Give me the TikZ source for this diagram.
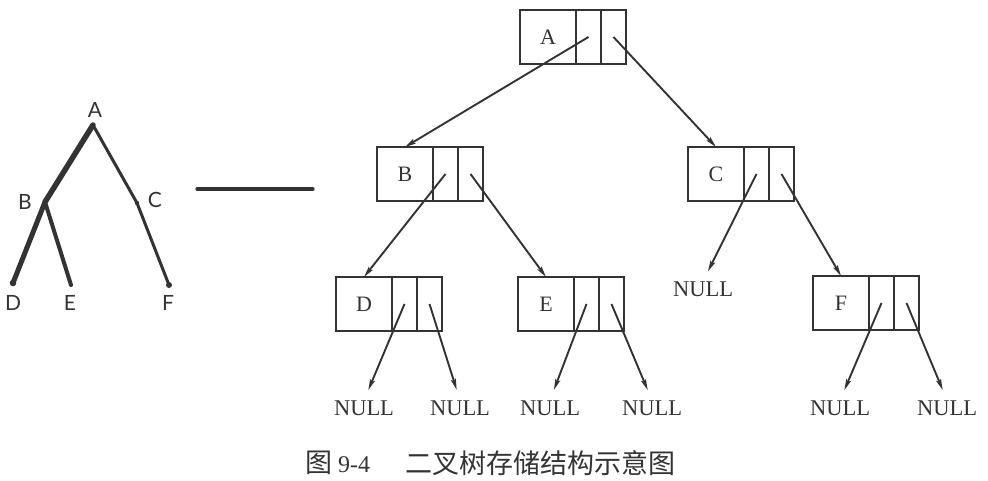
\documentclass[tikz,border=0pt]{standalone}
\usepackage{fontspec}
\setmainfont{Liberation Serif}
\newfontfamily\cjk{Noto Sans CJK SC}
\newfontfamily\latofont{Lato}
\usetikzlibrary{arrows.meta,positioning}
\definecolor{ink}{HTML}{333333}
\begin{document}
\begin{tikzpicture}[x=1pt,y=-1pt,
  dcell/.style={draw=ink, line width=2.2pt, minimum width=56pt, minimum height=54pt,
    inner sep=0pt, outer sep=0pt, font=\fontsize{22}{22}\selectfont, text=ink},
  pcell/.style={dcell, minimum width=25pt},
  ptr/.style={draw=ink, line width=1.9pt, -{Stealth[length=11pt,width=5pt,inset=2pt]}},
  nullptr/.style={ptr, shorten >=11pt},
  nulltxt/.style={inner sep=0pt, font=\fontsize{22.5}{22.5}\selectfont, text=ink},
  treelbl/.style={inner sep=0pt, font=\latofont\fontsize{21}{21}\selectfont, text=ink},
  branch/.style={draw=ink, line cap=round, line join=round},
  captxt/.style={inner sep=0pt, anchor=west, text=ink}]
\useasboundingbox (0,0) rectangle (988,481);

% ---- left tree ----
\coordinate (tA) at (93,125);
\coordinate (tB) at (45,202);
\coordinate (tC) at (137,203);
\coordinate (tD) at (13,283);
\coordinate (tE) at (71,285);
\coordinate (tF) at (169,285);
\draw[branch, line width=5.5pt] (tA) -- (tB);
\draw[branch, line width=5pt] (tB) -- (tD);
\draw[branch, line width=4pt] (tB) -- (tE);
\draw[branch, line width=3pt] (tA) -- (tC);
\draw[branch, line width=3pt] (tC) -- (tF);
\fill[ink] (tD) circle (3.3pt);
\fill[ink] (tF) circle (3pt);
\fill[ink] (tC) circle (2.2pt);
\node[treelbl] (lA) at (95,110) {A};
\node[treelbl] (lB) at (25,202) {B};
\node[treelbl] (lC) at (155,200) {C};
\node[treelbl] (lD) at (13,303) {D};
\node[treelbl] (lE) at (70,303) {E};
\node[treelbl] (lF) at (168,303) {F};

% ---- dash ----
\coordinate (d1) at (197,189);
\coordinate (d2) at (313,189);
\draw[branch, line width=3.2pt] (d1) -- (d2);

% ---- boxes ----
\node[dcell] (A) at (548,37) {A};
\node[pcell, right=0pt of A] (Al) {};
\node[pcell, right=0pt of Al] (Ar) {};

\node[dcell] (B) at (405,174) {B};
\node[pcell, right=0pt of B] (Bl) {};
\node[pcell, right=0pt of Bl] (Br) {};

\node[dcell] (C) at (716,174) {C};
\node[pcell, right=0pt of C] (Cl) {};
\node[pcell, right=0pt of Cl] (Cr) {};

\node[dcell] (D) at (364,304) {D};
\node[pcell, right=0pt of D] (Dl) {};
\node[pcell, right=0pt of Dl] (Dr) {};

\node[dcell] (E) at (546,304) {E};
\node[pcell, right=0pt of E] (El) {};
\node[pcell, right=0pt of El] (Er) {};

\node[dcell] (F) at (841,303) {F};
\node[pcell, right=0pt of F] (Fl) {};
\node[pcell, right=0pt of Fl] (Fr) {};

% ---- NULL labels ----
\node[nulltxt] (nC) at (703,289) {NULL};
\node[nulltxt] (nD1) at (364,408) {NULL};
\node[nulltxt] (nD2) at (460,408) {NULL};
\node[nulltxt] (nE1) at (550,408) {NULL};
\node[nulltxt] (nE2) at (652,408) {NULL};
\node[nulltxt] (nF1) at (840,408) {NULL};
\node[nulltxt] (nF2) at (947,408) {NULL};

% ---- pointers ----
\draw[ptr] (Al.center) -- (B.north);
\draw[ptr] (Ar.center) -- (C.north);
\draw[ptr] (Bl.center) -- (D.north);
\draw[ptr] (Br.center) -- (E.north);
\draw[nullptr] (Cl.center) -- (nC.north);
\draw[ptr] (Cr.center) -- (F.north);
\draw[nullptr] (Dl.center) -- (nD1.north);
\draw[nullptr] (Dr.center) -- (nD2.north);
\draw[nullptr] (El.center) -- (nE1.north);
\draw[nullptr] (Er.center) -- (nE2.north);
\draw[nullptr] (Fl.center) -- (nF1.north);
\draw[nullptr] (Fr.center) -- (nF2.north);

% ---- caption ----
\node[captxt] (cap1) at (305,463) {{\cjk\fontsize{27}{27}\selectfont 图}\hspace{6pt}{\fontsize{24}{24}\selectfont 9-4}};
\node[captxt] (cap2) at (405,463) {\cjk\fontsize{27}{27}\selectfont 二叉树存储结构示意图};
\end{tikzpicture}
\end{document}
